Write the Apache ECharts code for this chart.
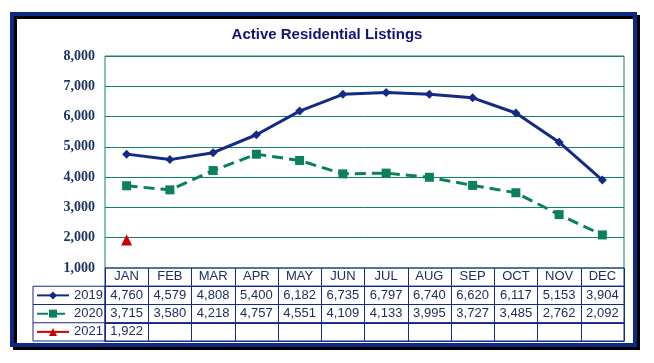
<!DOCTYPE html>
<html><head><meta charset="utf-8">
<script src="https://cdn.jsdelivr.net/npm/echarts@6/dist/echarts.min.js"></script>
<style>html,body{margin:0;padding:0;background:#fff}#c{width:654px;height:363px}</style>
</head><body><div id="c"></div>
<script>
const months = ['JAN','FEB','MAR','APR','MAY','JUN','JUL','AUG','SEP','OCT','NOV','DEC'];
const y2019 = [4760,4579,4808,5400,6182,6735,6797,6740,6620,6117,5153,3904];
const y2020 = [3715,3580,4218,4757,4551,4109,4133,3995,3727,3485,2762,2092];
const y2021 = [1922];
const seriesNames = ['2019','2020','2021'];
const yMin = 1000, yMax = 8000, yStep = 1000;

const navy = '#142a84', teal = '#12806a', txt = '#1b2f60';
const fmt = v => v == null ? '' : v.toLocaleString('en-US');
const L = 105, W = 519, plotTop = 56, plotH = 212, rowH = 18.25;
const rowTops = [268, 268 + rowH, 268 + 2 * rowH, 268 + 3 * rowH];
const rowData = [null, y2019, y2020, y2021];

const grids = [{left: L, top: plotTop, width: W, height: plotH, show: true, borderColor: teal, borderWidth: 1}];
const xAxes = [{gridIndex: 0, type: 'category', data: months, boundaryGap: true, axisLine: {show: false}, axisTick: {show: false}, axisLabel: {show: false}}];
const yAxes = [{gridIndex: 0, type: 'value', min: yMin, max: yMax, interval: yStep,
  axisLine: {show: false}, axisTick: {show: false},
  splitLine: {show: true, showMinLine: false, lineStyle: {color: teal, width: 1}},
  axisLabel: {formatter: v => fmt(v), fontFamily: 'Liberation Serif', fontWeight: 'bold', fontSize: 14, color: '#1c3467', margin: 10}}];

rowTops.forEach((t, i) => {
  grids.push({left: L, top: t, width: W, height: rowH, show: true, borderColor: navy, borderWidth: 1});
  const d = rowData[i];
  xAxes.push({gridIndex: i + 1, type: 'category', data: months, position: 'bottom', boundaryGap: true,
    axisLine: {show: true, lineStyle: {color: navy, width: 1}},
    axisTick: {show: true, inside: true, length: rowH, interval: 0, lineStyle: {color: navy, width: 1}},
    axisLabel: {inside: true, interval: 0, margin: 3, fontSize: 13, fontFamily: 'Liberation Sans', color: txt,
      formatter: (v, idx) => d ? fmt(d[idx]) : v},
    splitLine: {show: false}});
  yAxes.push({gridIndex: i + 1, type: 'value', show: false});
});

const chart = echarts.init(document.getElementById('c'), null, {renderer: 'canvas'});
chart.setOption({
  animation: false,
  backgroundColor: '#fff',
  title: {text: 'Active Residential Listings', left: 'center', top: 22,
    textStyle: {fontFamily: 'Liberation Sans', fontWeight: 'bold', fontSize: 15, color: '#141478'}},
  legend: {orient: 'vertical', left: 36, top: 268 + rowH, padding: 0, itemWidth: 32, itemHeight: 10, itemGap: 0,
    data: seriesNames, textStyle: {fontSize: 13, fontFamily: 'Liberation Sans', color: txt, lineHeight: rowH}},
  grid: grids, xAxis: xAxes, yAxis: yAxes,
  graphic: {elements: [
    {type: 'rect', z: -10, shape: {x: 12, y: 14, width: 623, height: 331},
      style: {fill: '#fff', stroke: '#0c2a85', lineWidth: 4, shadowColor: '#000', shadowOffsetX: 3, shadowOffsetY: 3, shadowBlur: 0}},
    {type: 'rect', z: 5, shape: {x: 33, y: 268 + rowH, width: L - 33, height: rowH * 3},
      style: {fill: 'none', stroke: navy, lineWidth: 1}},
    {type: 'line', z: 5, shape: {x1: 33, y1: 268 + 2 * rowH, x2: L, y2: 268 + 2 * rowH}, style: {stroke: navy, lineWidth: 1}},
    {type: 'line', z: 5, shape: {x1: 33, y1: 268 + 3 * rowH, x2: L, y2: 268 + 3 * rowH}, style: {stroke: navy, lineWidth: 1}}
  ]},
  series: [
    {name: seriesNames[0], type: 'line', data: y2019, symbol: 'diamond', symbolSize: 9,
      itemStyle: {color: navy}, lineStyle: {color: navy, width: 3}},
    {name: seriesNames[1], type: 'line', data: y2020, symbol: 'rect', symbolSize: 9,
      itemStyle: {color: '#0b7f5e'}, lineStyle: {color: '#0b7f5e', width: 3, type: [11, 6]}},
    {name: seriesNames[2], type: 'line', data: y2021, symbol: 'triangle', symbolSize: 11,
      itemStyle: {color: '#cc0000'}, lineStyle: {color: '#cc0000', width: 3}}
  ]
});
</script></body></html>
